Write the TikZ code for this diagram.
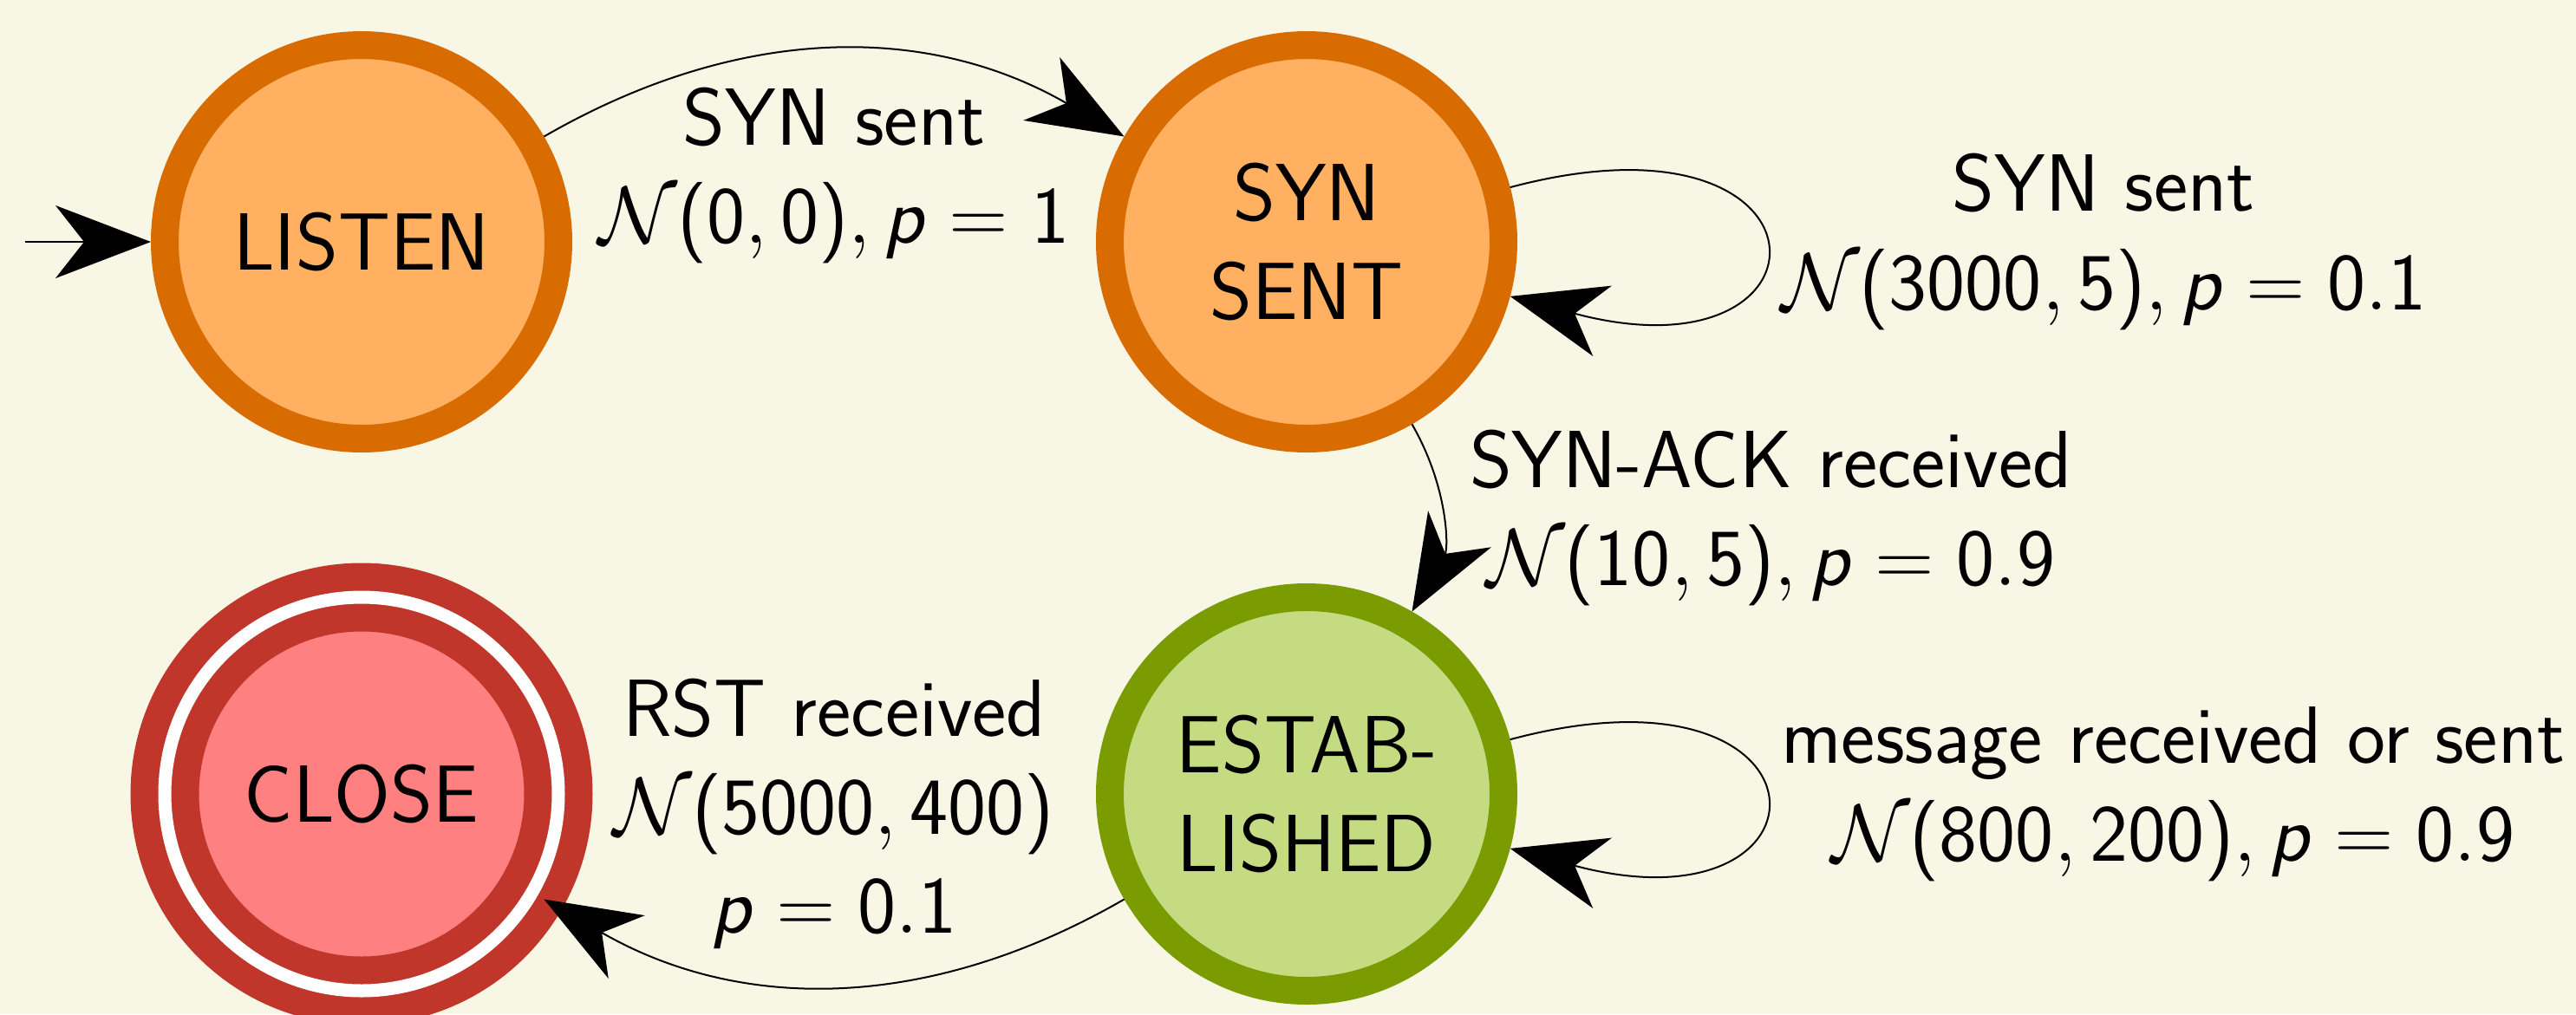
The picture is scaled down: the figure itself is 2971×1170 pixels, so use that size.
\RequirePackage{fix-cm}
\documentclass[tikz,border=0pt]{standalone}
\usepackage{xcolor}
\usepackage{tikz}
\usetikzlibrary{arrows.meta}

\DeclareMathVersion{sans}
\SetSymbolFont{operators}{sans}{OT1}{cmss}{m}{n}
\SetSymbolFont{letters}{sans}{OML}{cmm}{m}{it}
\SetSymbolFont{symbols}{sans}{OMS}{cmsy}{m}{n}
\SetSymbolFont{largesymbols}{sans}{OMX}{cmex}{m}{n}
\DeclareSymbolFont{sfslanted}{OT1}{cmss}{m}{sl}
\DeclareMathSymbol{p}{\mathalpha}{sfslanted}{`p}

\definecolor{paper}{RGB}{248,247,230}
\definecolor{synorange}{RGB}{217,108,0}
\definecolor{synfill}{RGB}{255,176,97}
\definecolor{estgreen}{RGB}{122,156,0}
\definecolor{estfill}{RGB}{197,219,130}
\definecolor{closered}{RGB}{192,54,42}
\definecolor{closefill}{RGB}{255,128,128}

\begin{document}
\begin{tikzpicture}[x=0.25pt,y=0.25pt,yscale=-1,
        font=\fontsize{23.4}{28.3}\selectfont\sffamily\mathversion{sans},
        state/.style={circle,minimum size=113.5pt,inner sep=0pt,line width=8pt,align=center},
        synstate/.style={state,draw=synorange,fill=synfill},
        openstate/.style={state,draw=estgreen,fill=estfill},
        closestate/.style={state,draw=closered,fill=closefill,double=white,double distance=3.75pt},
        trans/.style={line width=0.5pt,-{Stealth[length=27.5pt,width=21pt,inset=8.25pt]}},
        lbl/.style={align=center,inner xsep=8.5pt,inner ysep=10pt},
        looplbl/.style={lbl,inner xsep=5.5pt}]
        % y runs downwards, so "bend right" bends up here
        \useasboundingbox (0,0) rectangle (2971,1170);
        \fill [paper] (0,0) rectangle (2971,1170);

        \node [synstate] (listen) at (417,279) {LISTEN};
        \node [synstate] (synsent) at (1507,279) {SYN\\SENT};
        \node [openstate] (established) at (1507,916) {ESTAB-\\LISHED};
        \node [closestate] (close) at (417,916) {CLOSE};
        \coordinate (entry) at (29,279);

        \draw [trans] (entry) -- (listen);
        \draw [trans] (listen) to [bend right] node [below,lbl] {SYN sent\\$\mathcal{N}(0,0), p=1$} (synsent);
        \draw [trans] (synsent.15) .. controls +(386,-103) and +(386,103) .. (synsent.-15)
                node [pos=0.5,right,looplbl] {SYN sent\\$\mathcal{N}(3000,5), p=0.1$};
        \draw [trans] (synsent) to [bend right] node [right,lbl] {SYN-ACK received\\$\mathcal{N}(10,5), p=0.9$} (established);
        \draw [trans] (established.15) .. controls +(386,-103) and +(386,103) .. (established.-15)
                node [pos=0.5,right,looplbl] {message received or sent\\$\mathcal{N}(800,200), p=0.9$};
        \draw [trans] (established) to [bend right] node [above,lbl] {RST received\\$\mathcal{N}(5000,400)$\\$p=0.1$} (close);
\end{tikzpicture}
\end{document}
